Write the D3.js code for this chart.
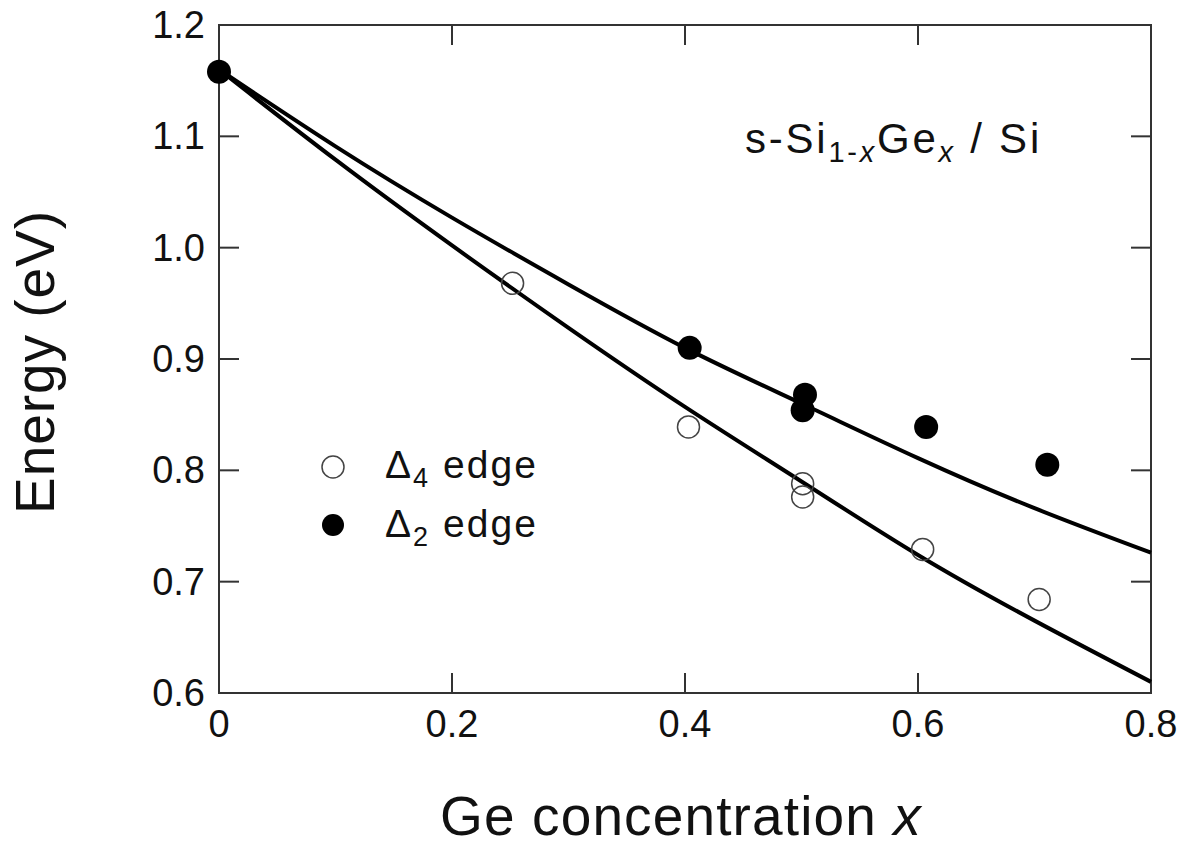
<!DOCTYPE html>
<html>
<head>
<meta charset="utf-8">
<script src="https://cdn.jsdelivr.net/npm/d3@7"></script>
<style>
  body { margin: 0; background: #fff; }
  text { font-family: "Liberation Sans", Arial, Helvetica, sans-serif; fill: #111; }
</style>
</head>
<body>
<div id="chart"></div>
<script>
// data
var xTicks = [0, 0.2, 0.4, 0.6, 0.8];
var xTickLabels = ["0", "0.2", "0.4", "0.6", "0.8"];
var yTicks = [0.6, 0.7, 0.8, 0.9, 1.0, 1.1, 1.2];
var yTickLabels = ["0.6", "0.7", "0.8", "0.9", "1.0", "1.1", "1.2"];

// Delta4 edge (open circles)
var delta4X = [0.252, 0.403, 0.501, 0.501, 0.604, 0.704];
var delta4Y = [0.968, 0.839, 0.788, 0.776, 0.729, 0.684];
// Delta2 edge (filled circles)
var delta2X = [0.0, 0.404, 0.503, 0.501, 0.607, 0.711];
var delta2Y = [1.158, 0.910, 0.868, 0.854, 0.839, 0.805];

// fitted curves
var curveX = [0, 0.1, 0.2, 0.3, 0.4, 0.5, 0.6, 0.7, 0.8];
var upperY = [1.160, 1.091, 1.027, 0.967, 0.910, 0.860, 0.811, 0.766, 0.726];
var lowerY = [1.160, 1.079, 1.002, 0.928, 0.857, 0.790, 0.724, 0.665, 0.610];

var svgWidth = 1191, svgHeight = 849;
var margin = {top: 25, left: 219, right: 40, bottom: 156};
var width = 1151 - margin.left;
var height = 693 - margin.top;

var svg = d3.select("#chart").append("svg")
    .attr("width", svgWidth)
    .attr("height", svgHeight);

var g = svg.append("g")
    .attr("transform", `translate(${margin.left}, ${margin.top})`);

var x = d3.scaleLinear().domain([0, 0.8]).range([0, width]);
var y = d3.scaleLinear().domain([0.6, 1.2]).range([height, 0]);

// the figure's lettering is set wide, so stretch text to its measured width
function spread(sel, target) {
    var n = sel.node();
    var w = n.getComputedTextLength();
    var chars = n.textContent.length;
    sel.style("letter-spacing", ((target - w) / chars) + "px");
}

// frame
g.append("rect")
    .attr("width", width).attr("height", height)
    .attr("fill", "none").attr("stroke", "#333").attr("stroke-width", 2);

// inward ticks on all four sides
var tickLen = 20;
g.selectAll(".xt").data(xTicks.slice(1, -1)).enter().append("line")
    .attr("x1", d => x(d)).attr("x2", d => x(d))
    .attr("y1", height).attr("y2", height - tickLen)
    .attr("stroke", "#333").attr("stroke-width", 2);
g.selectAll(".xtt").data(xTicks.slice(1, -1)).enter().append("line")
    .attr("x1", d => x(d)).attr("x2", d => x(d))
    .attr("y1", 0).attr("y2", tickLen)
    .attr("stroke", "#333").attr("stroke-width", 2);
g.selectAll(".yt").data(yTicks.slice(1, -1)).enter().append("line")
    .attr("x1", 0).attr("x2", tickLen)
    .attr("y1", d => y(d)).attr("y2", d => y(d))
    .attr("stroke", "#333").attr("stroke-width", 2);
g.selectAll(".ytr").data(yTicks.slice(1, -1)).enter().append("line")
    .attr("x1", width).attr("x2", width - tickLen)
    .attr("y1", d => y(d)).attr("y2", d => y(d))
    .attr("stroke", "#333").attr("stroke-width", 2);

// tick labels
g.selectAll(".xl").data(xTicks).enter().append("text")
    .attr("x", d => x(d)).attr("y", height + 44)
    .attr("text-anchor", "middle")
    .style("font-size", "38px")
    .text((d, i) => xTickLabels[i]);
g.selectAll(".yl").data(yTicks).enter().append("text")
    .attr("x", -14).attr("y", d => y(d) + 13)
    .attr("text-anchor", "end")
    .style("font-size", "38px")
    .text((d, i) => yTickLabels[i]);

// curves
var line = d3.line()
    .x(d => x(d[0])).y(d => y(d[1]))
    .curve(d3.curveNatural);
[upperY, lowerY].forEach(function(ys) {
    g.append("path")
        .datum(curveX.map((v, i) => [v, ys[i]]))
        .attr("d", line)
        .attr("fill", "none").attr("stroke", "#000").attr("stroke-width", 4);
});

// points
g.selectAll(".open").data(delta4X).enter().append("circle")
    .attr("cx", d => x(d)).attr("cy", (d, i) => y(delta4Y[i]))
    .attr("r", 11).attr("fill", "none")
    .attr("stroke", "#444").attr("stroke-width", 1.5);
g.selectAll(".filled").data(delta2X).enter().append("circle")
    .attr("cx", d => x(d)).attr("cy", (d, i) => y(delta2Y[i]))
    .attr("r", 12).attr("fill", "#000");

// legend
svg.append("circle").attr("cx", 333).attr("cy", 467).attr("r", 11)
    .attr("fill", "none").attr("stroke", "#444").attr("stroke-width", 1.5);
svg.append("circle").attr("cx", 333).attr("cy", 525).attr("r", 11)
    .attr("fill", "#000");
var leg = [["4", 478], ["2", 537]];
leg.forEach(function(l) {
    var t = svg.append("text").attr("x", 385).attr("y", l[1]).style("font-size", "39px");
    t.append("tspan").text("\u0394");
    t.append("tspan").attr("dy", 9).style("font-size", "27px").text(l[0]);
    t.append("tspan").attr("dy", -9).text(" edge");
    spread(t, 153);
});

// annotation
var ann = svg.append("text").attr("x", 745).attr("y", 153).style("font-size", "42px");
ann.append("tspan").text("s-Si");
ann.append("tspan").attr("dy", 9).style("font-size", "29px").text("1-");
ann.append("tspan").style("font-size", "29px").style("font-style", "italic").text("x");
ann.append("tspan").attr("dy", -9).text("Ge");
ann.append("tspan").attr("dy", 9).style("font-size", "29px").style("font-style", "italic").text("x");
ann.append("tspan").attr("dy", -9).text(" / Si");
spread(ann, 297);

// axis titles
var xt = svg.append("text").attr("x", 440).attr("y", 835)
    .style("font-size", "55px");
xt.append("tspan").text("Ge concentration ");
xt.append("tspan").style("font-style", "italic").text("x");
spread(xt, 482);

var yt = svg.append("text")
    .attr("transform", "translate(54, 514) rotate(-90)")
    .style("font-size", "55px")
    .text("Energy (eV)");
spread(yt, 304);
</script>
</body>
</html>
